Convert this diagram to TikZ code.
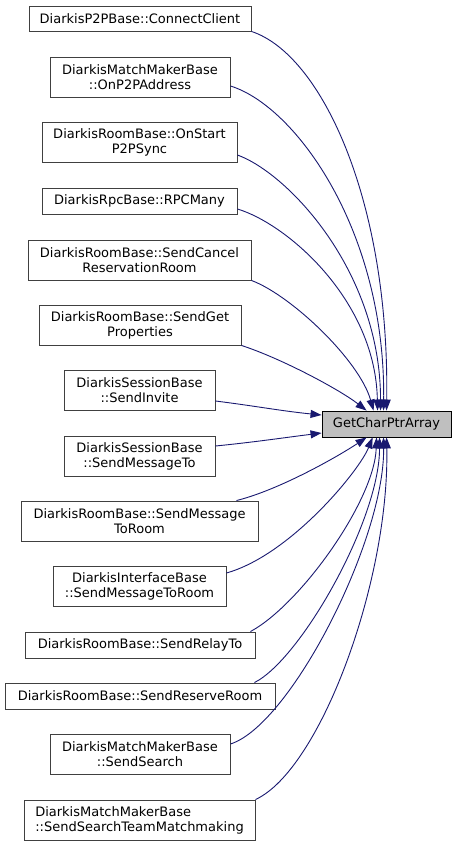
\documentclass[tikz,border=0pt]{standalone}
\usepackage{fontspec}
\setmainfont{DejaVu Sans}
\usetikzlibrary{arrows.meta}
\definecolor{edgeblue}{HTML}{191970}
\definecolor{boxline}{HTML}{404040}
\definecolor{tgtfill}{HTML}{BFBFBF}
\tikzset{
  fn/.style={draw=boxline, line width=0.9pt, fill=white, inner sep=0pt, align=center,
    font=\fontsize{13}{15}\selectfont},
  tgtbox/.style={draw=black, line width=0.9pt, fill=tgtfill, inner sep=0pt,
    font=\fontsize{13}{15}\selectfont, minimum width=129pt, minimum height=26pt},
  call/.style={draw=edgeblue, line width=0.9pt, -{Triangle[length=11pt,width=8pt]}, fill=none},
}
\begin{document}
\begin{tikzpicture}[x=1pt,y=-1pt]
\useasboundingbox (0,0) rectangle (456,846);
\node[fn, minimum width=222pt, minimum height=25pt] (a1) at (140,18.5) {DiarkisP2PBase::ConnectClient};
\node[fn, minimum width=180pt, minimum height=40pt] (a2) at (140,77) {DiarkisMatchMakerBase\\::OnP2PAddress};
\node[fn, minimum width=195pt, minimum height=40.5pt] (a3) at (139.5,142.5) {DiarkisRoomBase::OnStart\\P2PSync};
\node[fn, minimum width=195pt, minimum height=26pt] (a4) at (139.5,201) {DiarkisRpcBase::RPCMany};
\node[fn, minimum width=223pt, minimum height=40pt] (a5) at (139.5,260) {DiarkisRoomBase::SendCancel\\ReservationRoom};
\node[fn, minimum width=202pt, minimum height=40pt] (a6) at (140,325) {DiarkisRoomBase::SendGet\\Properties};
\node[fn, minimum width=151pt, minimum height=40.5pt] (a7) at (139.5,390.5) {DiarkisSessionBase\\::SendInvite};
\node[fn, minimum width=151pt, minimum height=40pt] (a8) at (139.5,456) {DiarkisSessionBase\\::SendMessageTo};
\node[fn, minimum width=237pt, minimum height=40pt] (a9) at (139.5,521) {DiarkisRoomBase::SendMessage\\ToRoom};
\node[fn, minimum width=173pt, minimum height=40.5pt] (a10) at (139.5,586.5) {DiarkisInterfaceBase\\::SendMessageToRoom};
\node[fn, minimum width=230pt, minimum height=26pt] (a11) at (140,645) {DiarkisRoomBase::SendRelayTo};
\node[fn, minimum width=270pt, minimum height=26pt] (a12) at (140,696) {DiarkisRoomBase::SendReserveRoom};
\node[fn, minimum width=180pt, minimum height=40pt] (a13) at (140,754) {DiarkisMatchMakerBase\\::SendSearch};
\node[fn, minimum width=231pt, minimum height=40pt, align=left] (a14) at (139.5,820) {DiarkisMatchMakerBase\\::SendSearchTeamMatchmaking};
\node[tgtbox] (t) at (386.5,424) {GetCharPtrArray};

\draw[call] (a1.south east) .. controls +(70,23) and +(3,-210) .. ([xshift=65pt]t.north west);
\draw[call] ([yshift=-9pt]a2.east) .. controls +(65,20) and +(2,-180) .. ([xshift=62pt]t.north west);
\draw[call] ([yshift=-12.5pt]a3.east) .. controls +(50,18) and +(0,-140) .. ([xshift=59pt]t.north west);
\draw[call] ([yshift=-8pt]a4.east) .. controls +(50,15) and +(-2,-110) .. ([xshift=56pt]t.north west);
\draw[call] (a5.south east) .. controls +(40,15) and +(-14,-50) .. ([xshift=52pt]t.north west);
\draw[call] (a6.south east) .. controls +(40,13) and +(-27,-21) .. ([xshift=45pt]t.north west);
\draw[call] ([yshift=-10.5pt]a7.east) .. controls +(40,5) and +(-40,-4) .. ([yshift=9pt]t.west);
\draw[call] ([yshift=10pt]a8.east) .. controls +(40,-4) and +(-40,5) .. ([yshift=-9pt]t.west);
\draw[call] ([xshift=-22pt]a9.north east) .. controls +(44,-11) and +(-27,18) .. ([xshift=45pt]t.south west);
\draw[call] ([yshift=13.5pt]a10.east) .. controls +(64,-18) and +(-13,33) .. ([xshift=51pt]t.south west);
\draw[call] ([xshift=-5pt]a11.north east) .. controls +(50,-27) and +(-2,63) .. ([xshift=55pt]t.south west);
\draw[call] ([xshift=-21pt]a12.north east) .. controls +(46,-23) and +(0,83) .. ([xshift=58pt]t.south west);
\draw[call] ([yshift=10pt]a13.east) .. controls +(60,-19) and +(1,103) .. ([xshift=62pt]t.south west);
\draw[call] (a14.north east) .. controls +(65,-30) and +(3,143) .. ([xshift=65pt]t.south west);
\end{tikzpicture}
\end{document}
